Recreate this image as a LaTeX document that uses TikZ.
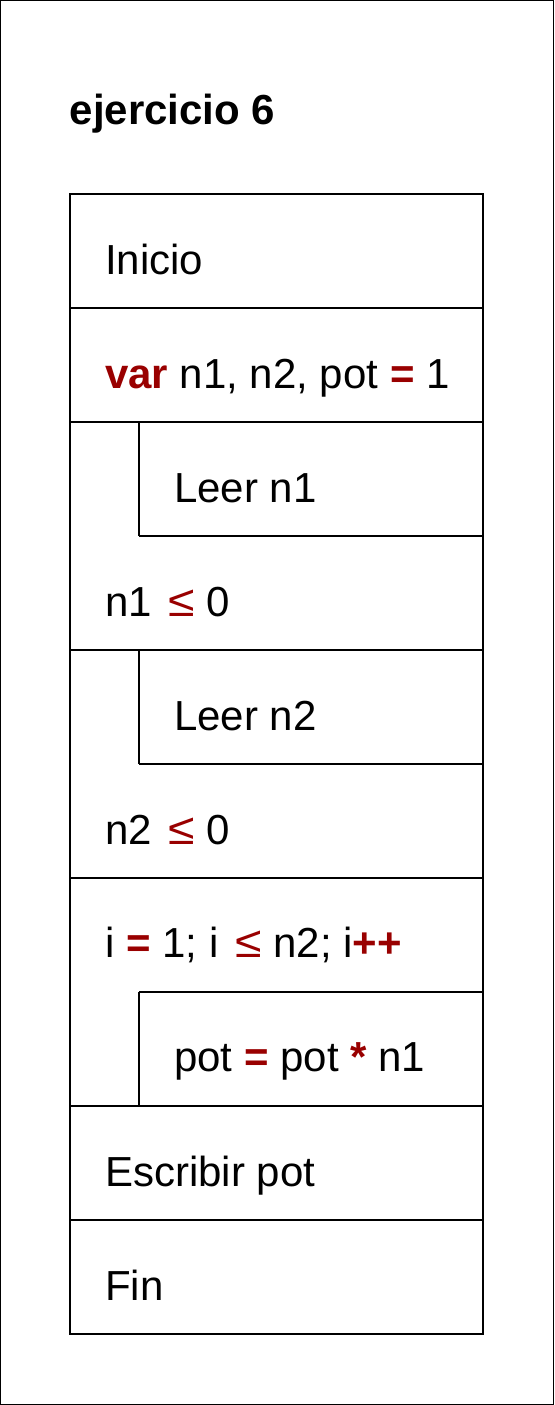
\documentclass[tikz,border=0pt]{standalone}
\usepackage{fontspec}
\usepackage{graphicx}
\setmainfont{Liberation Sans}
\definecolor{kw}{RGB}{153,0,0}
\newcommand{\kwb}[1]{\textcolor{kw}{\textbf{#1}}}
\newcommand{\kwleq}{\hspace{2.6pt}\textcolor{kw}{\scalebox{1.15}[1.05]{≤}}}
\begin{document}
\begin{tikzpicture}[x=0.5pt,y=-0.5pt, line width=0.7pt,
  txt/.style={anchor=base west, inner sep=0pt, font=\fontsize{21pt}{25pt}\selectfont},
  ttl/.style={anchor=base west, inner sep=0pt, font=\bfseries\fontsize{21pt}{25pt}\selectfont}]
\useasboundingbox (0,0) rectangle (554,1405);
\draw (0.7,0.7) rectangle (553.3,1404.3);
\node[ttl] (title) at (69,124) {ejercicio 6};
% frame
\draw (70,194) rectangle (483,1334);
\foreach \yy in {308,422,650,878,1106,1220} \draw (70,\yy) -- (483,\yy);
\foreach \yy in {536,764,992} \draw (139,\yy) -- (483,\yy);
\draw (139,422) -- (139,536);
\draw (139,650) -- (139,764);
\draw (139,992) -- (139,1106);
% texts
\node[txt] (inicio) at (104.5,274) {Inicio};
\node[txt] (var) at (104.5,388) {\kwb{var} n1, n2, pot \kwb{=} 1};
\node[txt] (leer1) at (173.5,502) {Leer n1};
\node[txt] (cond1) at (104.5,616) {n1 \kwleq{} 0};
\node[txt] (leer2) at (173.5,730) {Leer n2};
\node[txt] (cond2) at (104.5,844) {n2 \kwleq{} 0};
\node[txt] (para) at (104.5,957) {i \kwb{=} 1; i \kwleq{} n2; i\kwb{++}};
\node[txt] (pot) at (173.5,1071) {pot \kwb{=} pot \kwb{*} n1};
\node[txt] (escr) at (104.5,1186) {Escribir pot};
\node[txt] (fin) at (104.5,1300) {Fin};
\end{tikzpicture}
\end{document}
